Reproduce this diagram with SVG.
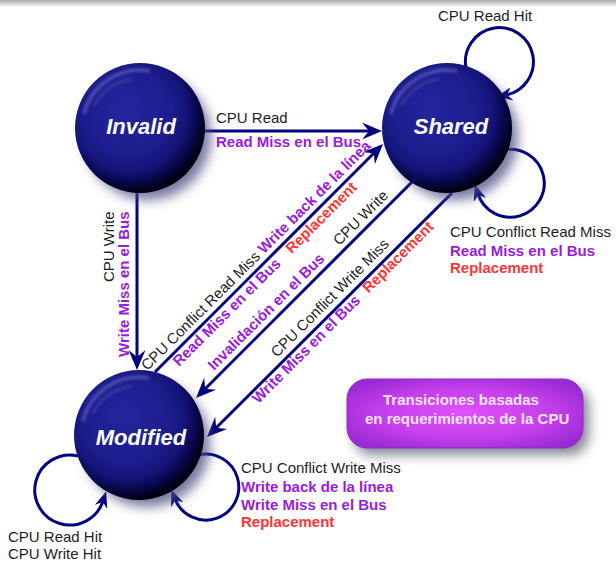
<svg xmlns="http://www.w3.org/2000/svg" width="616" height="562" viewBox="0 0 616 562">
  <style>
    text { font-family: "Liberation Sans", Arial, sans-serif; font-size: 15px; }
    .k { fill: #1e1e1e; }
    .p { fill: #9b1bd8; font-weight: bold; }
    .r { fill: #ff3434; font-weight: bold; }
    .state { fill: #ffffff; font-size: 22px; font-weight: bold; font-style: italic; text-anchor: middle; }
    .edge { fill: none; stroke: #03037e; stroke-width: 3; }
    .box-t { fill: #f6e2ff; font-weight: bold; }
  </style>
  <defs>
    <linearGradient id="topband" x1="0" y1="0" x2="0" y2="1">
      <stop offset="0" stop-color="#a9a9a9"/>
      <stop offset="1" stop-color="#ffffff"/>
    </linearGradient>
    <radialGradient id="ball" cx="0.42" cy="0.4" r="0.6" fx="0.38" fy="0.34">
      <stop offset="0" stop-color="#25259e"/>
      <stop offset="0.55" stop-color="#1d1d8e"/>
      <stop offset="0.75" stop-color="#141478"/>
      <stop offset="0.88" stop-color="#07074a"/>
      <stop offset="1" stop-color="#000012"/>
    </radialGradient>
    <radialGradient id="boxfill" cx="0.5" cy="0.5" r="0.6">
      <stop offset="0" stop-color="#e052f8"/>
      <stop offset="0.6" stop-color="#c43fec"/>
      <stop offset="1" stop-color="#9a2ad4"/>
    </radialGradient>
    <filter id="soft" x="-30%" y="-30%" width="160%" height="160%">
      <feGaussianBlur stdDeviation="6"/>
    </filter>
    <filter id="glint" x="-20%" y="-20%" width="140%" height="140%">
      <feGaussianBlur stdDeviation="1.5"/>
    </filter>
    <marker id="arrow" markerUnits="userSpaceOnUse" markerWidth="24" markerHeight="20" viewBox="0 -10 24 20" refX="8" refY="0" orient="auto">
      <path d="M0,-8.5 L20,0 L0,8.5 L7,0 Z" fill="#03037e"/>
    </marker>
    <marker id="arrowSm" markerUnits="userSpaceOnUse" markerWidth="20" markerHeight="16" viewBox="0 -8 20 16" refX="6" refY="0" orient="auto">
      <path d="M0,-6.5 L16,0 L0,6.5 L5,0 Z" fill="#03037e"/>
    </marker>
    <!-- one ball: shadow, body, top-left bevel glint -->
    <g id="ballshape">
      <circle cx="8" cy="9" r="63" fill="#4c4c80" opacity="0.75" filter="url(#soft)"/>
      <circle cx="0" cy="0" r="65" fill="url(#ball)"/>
      <path d="M-56,-14 A58,58 0 0 1 10,-57" fill="none" stroke="#9a9ae0" stroke-width="3" opacity="0.45" filter="url(#glint)"/>
      <path d="M-46,-22 A50,50 0 0 1 -8,-49" fill="none" stroke="#8080d0" stroke-width="2" opacity="0.35" filter="url(#glint)"/>
    </g>
  </defs>

  <rect x="0" y="0" width="616" height="7" fill="url(#topband)"/>

  <!-- transitions -->
  <g id="connectors">
    <!-- Invalid -> Shared -->
    <path class="edge" d="M203,131 L370,131" marker-end="url(#arrow)"/>
    <!-- Invalid -> Modified -->
    <path class="edge" d="M137,192 L137,358" marker-end="url(#arrow)"/>
    <!-- Modified -> Shared -->
    <path class="edge" d="M155,372 L374.5,152.5" marker-end="url(#arrow)"/>
    <!-- Shared -> Modified (CPU Write) -->
    <path class="edge" d="M412,182 L204.5,389.5" marker-end="url(#arrow)"/>
    <!-- Shared -> Modified (conflict write miss) -->
    <path class="edge" d="M452,193 L215.5,428.5" marker-end="url(#arrow)"/>
    <!-- self loops -->
    <path class="edge" d="M466,68 A34,34 0 1 1 506,95" marker-end="url(#arrowSm)"/>
    <path class="edge" d="M503,150 A34,34 0 1 1 478,194" marker-end="url(#arrowSm)"/>
    <path class="edge" d="M78,456 A35,35 0 1 0 103,501" marker-end="url(#arrowSm)"/>
    <path class="edge" d="M198,455 A33,33 0 1 1 175,499" marker-end="url(#arrowSm)"/>
  </g>

  <!-- states -->
  <g id="invalid">
    <use href="#ballshape" x="140" y="128"/>
    <text class="state" x="141" y="134">Invalid</text>
  </g>
  <g id="shared">
    <use href="#ballshape" x="447" y="128"/>
    <text class="state" x="451" y="134">Shared</text>
  </g>
  <g id="modified">
    <use href="#ballshape" x="139" y="435"/>
    <text class="state" x="141" y="445">Modified</text>
  </g>

  <!-- labels -->
  <g id="labels">
    <text class="k" x="216" y="123">CPU Read</text>
    <text class="p" x="216" y="147">Read Miss en el Bus</text>

    <text class="k" x="438" y="21">CPU Read Hit</text>

    <text class="k" x="450" y="237">CPU Conflict Read Miss</text>
    <text class="p" x="450" y="256">Read Miss en el Bus</text>
    <text class="r" x="450" y="273">Replacement</text>

    <text class="k" transform="translate(114,282) rotate(-90)">CPU Write</text>
    <text class="p" transform="translate(129,357) rotate(-90)">Write Miss en el Bus</text>

    <text transform="translate(147.2,371.3) rotate(-45)"><tspan class="k">CPU Conflict Read Miss </tspan><tspan class="p">Write back de la línea</tspan></text>
    <text class="p" transform="translate(179,367.1) rotate(-45)">Read Miss en el Bus</text>
    <text class="r" transform="translate(291.8,254.3) rotate(-45)">Replacement</text>

    <text class="p" transform="translate(213.9,370.9) rotate(-45)">Invalidación en el Bus</text>
    <text class="k" transform="translate(339.2,246.3) rotate(-45)">CPU Write</text>

    <text class="k" transform="translate(276.9,358) rotate(-45)">CPU Conflict Write Miss</text>
    <text class="p" transform="translate(258.2,404.2) rotate(-45)">Write Miss en el Bus</text>
    <text class="r" transform="translate(368.6,293.8) rotate(-45)">Replacement</text>

    <text class="k" x="241" y="473">CPU Conflict Write Miss</text>
    <text class="p" x="241" y="492">Write back de la línea</text>
    <text class="p" x="241" y="510">Write Miss en el Bus</text>
    <text class="r" x="241" y="527">Replacement</text>

    <text class="k" x="8" y="542">CPU Read Hit</text>
    <text class="k" x="8" y="559">CPU Write Hit</text>
  </g>

  <!-- legend -->
  <g id="legend">
    <rect x="353" y="386" width="236" height="69" rx="20" fill="#55556a" opacity="0.7" filter="url(#soft)"/>
    <rect x="347" y="379" width="236" height="69" rx="20" fill="url(#boxfill)" stroke="#8e2cc4" stroke-width="1"/>
    <text class="box-t" x="383" y="405">Transiciones basadas</text>
    <text class="box-t" x="365" y="424">en requerimientos de la CPU</text>
  </g>
</svg>
